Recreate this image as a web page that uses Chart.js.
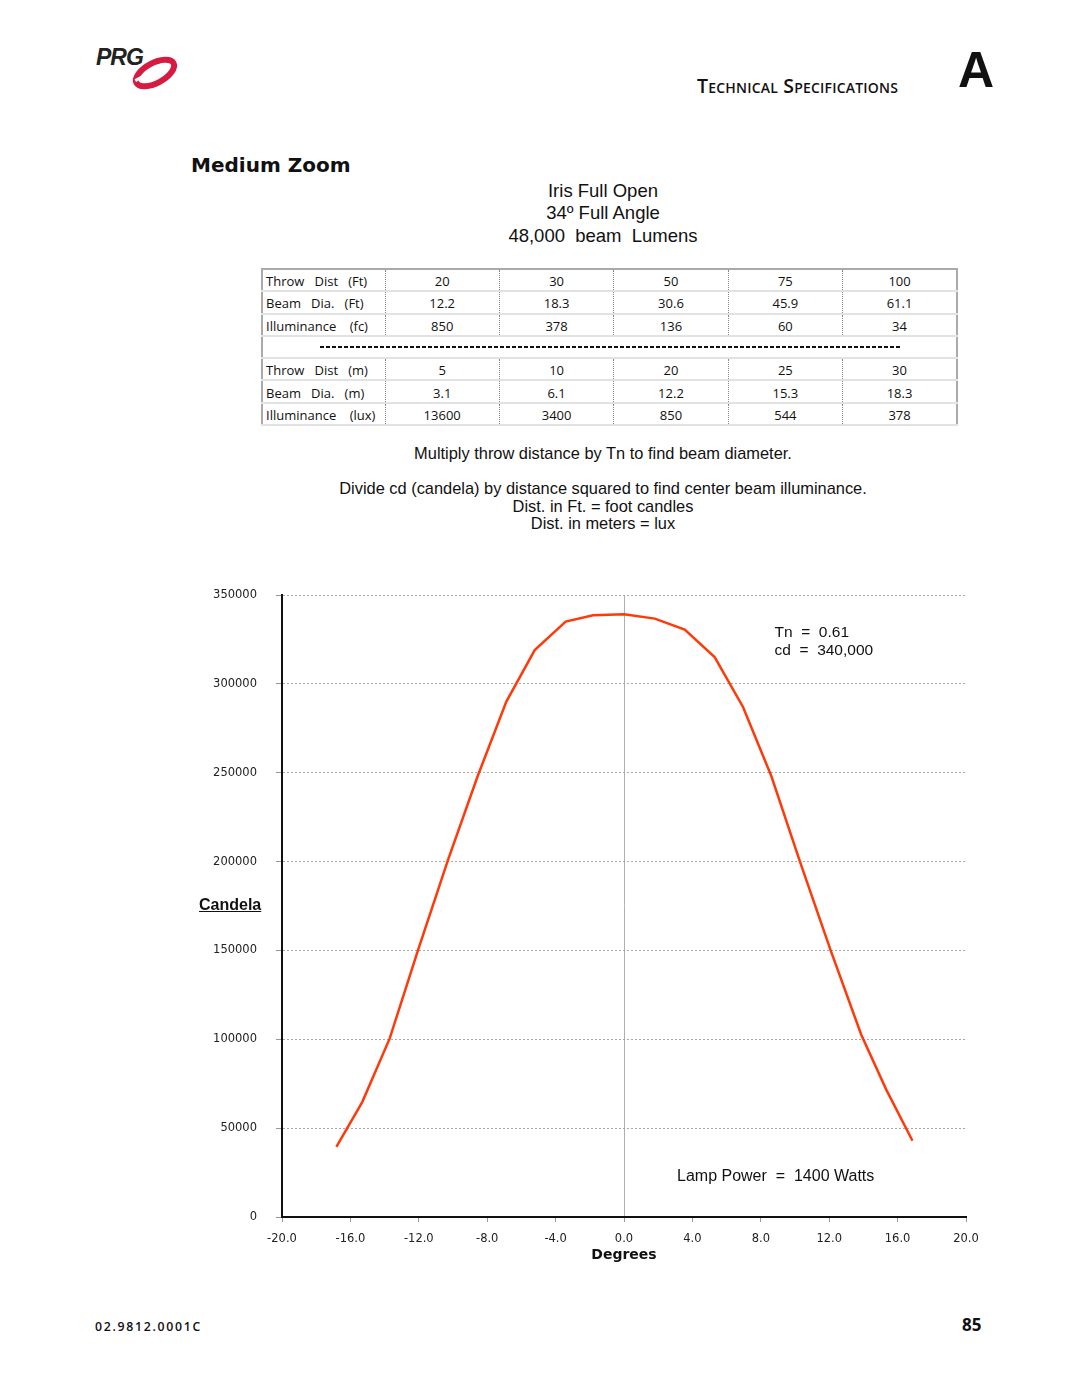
<!DOCTYPE html>
<html>
<head>
<meta charset="utf-8">
<script src="https://cdn.jsdelivr.net/npm/chart.js@4.4.1/dist/chart.umd.min.js"></script>
<style>
  html, body { margin:0; padding:0; background:#fff; }
  body { width:1080px; height:1397px; position:relative; overflow:hidden; font-family:"Liberation Sans", Arial, sans-serif; color:#111; }
  .abs { position:absolute; }
  #techspec { left:697px; top:72px; font-family:"Open Sans", sans-serif; font-weight:600; font-size:19.5px; font-variant:small-caps; letter-spacing:0.2px; }
  #bigA { left:958px; top:45px; font-family:"Liberation Sans", Arial, sans-serif; font-weight:bold; font-size:50px; line-height:1; }
  #mzoom { left:191px; top:153px; font-family:"DejaVu Sans", sans-serif; font-weight:bold; font-size:20px; }
  #iris { left:403px; width:400px; top:180px; text-align:center; font-size:18.5px; line-height:22.3px; }
  table#spec { position:absolute; left:261px; top:268px; width:697px; table-layout:fixed; border-collapse:collapse; font-family:"Open Sans", sans-serif; font-size:13px; color:#111; border:2px solid #aaa; }
  #spec td { height:18.3px; padding:2px 0 0 0; text-align:center; border-bottom:2px solid #e2e2e2; border-left:1px dotted #888; white-space:nowrap; overflow:visible; }
  #spec td.lab { text-align:left; padding-left:3px; border-left:none; }
  #spec tr.sep td { border-left:none; }
  #notes { left:253px; width:700px; top:445px; text-align:center; font-size:16.4px; line-height:17.5px; }
  #candela { left:199px; top:896px; font-weight:bold; font-size:16px; text-decoration:underline; }
  #code { left:95px; top:1318px; font-family:"Open Sans", sans-serif; font-weight:600; font-size:12.3px; letter-spacing:1.7px; }
  #page { left:962px; top:1313px; font-family:"Open Sans", sans-serif; font-weight:700; font-size:17px; }
  #chartWrap { position:absolute; left:0; top:560px; width:1080px; height:720px; }
</style>
</head>
<body>

<svg class="abs" style="left:90px;top:38px" width="100" height="60" viewBox="0 0 100 60">
  <ellipse cx="65" cy="35" rx="21" ry="10" transform="rotate(-28 65 35)" fill="none" stroke="#d71a3f" stroke-width="6"/>
  <rect x="44" y="31" width="30" height="3" fill="#fff" transform="rotate(-28 65 35)"/>
  <text x="6" y="27" font-family="Liberation Sans, Arial" font-weight="bold" font-style="italic" font-size="23" fill="#222" letter-spacing="-1">PRG</text>
</svg>
<div id="techspec" class="abs">Technical Specifications</div>
<div id="bigA" class="abs">A</div>
<div id="mzoom" class="abs">Medium Zoom</div>
<div id="iris" class="abs">Iris Full Open<br>34º Full Angle<br>48,000&nbsp; beam&nbsp; Lumens</div>

<table id="spec">
  <colgroup><col style="width:123px"><col><col><col><col><col></colgroup>
  <tbody id="specBody"></tbody>
</table>

<div id="notes" class="abs">Multiply throw distance by Tn to find beam diameter.<br><br>Divide cd (candela) by distance squared to find center beam illuminance.<br>Dist. in Ft. = foot candles<br>Dist. in meters = lux</div>

<div id="chartWrap"><canvas id="c" width="1080" height="720"></canvas></div>
<div id="candela" class="abs">Candela</div>

<div id="code" class="abs">02.9812.0001C</div>
<div id="page" class="abs">85</div>

<script>
// ---- table data ----
const throwFt = ["20", "30", "50", "75", "100"];
const beamFt = ["12.2", "18.3", "30.6", "45.9", "61.1"];
const illumFc = ["850", "378", "136", "60", "34"];
const throwM = ["5", "10", "20", "25", "30"];
const beamM = ["3.1", "6.1", "12.2", "15.3", "18.3"];
const illumLux = ["13600", "3400", "850", "544", "378"];

// ---- chart data ----
const degrees = [-16.82, -15.30, -13.70, -12.05, -10.29, -8.56, -6.88, -5.22, -3.41, -1.81, 0,
                 1.80, 3.55, 5.30, 6.96, 8.62, 10.27, 12.07, 13.88, 15.35, 16.87];
const candela = [39500, 64800, 100500, 150000, 201000, 248000, 290000, 319000, 335000, 338600, 339200,
                 336700, 330500, 315100, 287000, 248000, 200500, 150500, 102400, 71400, 42900];
const yTicks = [0, 50000, 100000, 150000, 200000, 250000, 300000, 350000];
const xTicks = [-20, -16, -12, -8, -4, 0, 4, 8, 12, 16, 20];
const noteTn = "Tn  =  0.61";
const noteCd = "cd  =  340,000";
const noteLamp = "Lamp Power  =  1400 Watts";

// build table
const body = document.getElementById('specBody');
function addRow(label, vals) {
  const tr = document.createElement('tr');
  const th = document.createElement('td'); th.className = 'lab'; th.innerHTML = label; tr.appendChild(th);
  vals.forEach(v => { const td = document.createElement('td'); td.textContent = v; tr.appendChild(td); });
  body.appendChild(tr);
}
addRow("Throw&nbsp;&nbsp; Dist&nbsp;&nbsp; (Ft)", throwFt);
addRow("Beam&nbsp;&nbsp; Dia.&nbsp;&nbsp; (Ft)", beamFt);
addRow("Illuminance&nbsp;&nbsp;&nbsp; (fc)", illumFc);
(function(){
  const tr = document.createElement('tr'); tr.className = 'sep';
  const td = document.createElement('td'); td.colSpan = 6; td.style.position = 'relative';
  td.innerHTML = '<div style="position:absolute;left:57px;width:582px;top:9px;height:2px;background:repeating-linear-gradient(90deg,#111 0 4px,transparent 4px 6px);"></div>';
  tr.appendChild(td); body.appendChild(tr);
})();
addRow("Throw&nbsp;&nbsp; Dist&nbsp;&nbsp; (m)", throwM);
addRow("Beam&nbsp;&nbsp; Dia.&nbsp;&nbsp; (m)", beamM);
addRow("Illuminance&nbsp;&nbsp;&nbsp; (lux)", illumLux);

// notes plugin
const notesPlugin = {
  id: 'notes',
  afterDatasetsDraw(chart) {
    const {ctx, scales: {x, y}} = chart;
    ctx.save();
    ctx.fillStyle = '#111';
    ctx.textBaseline = 'middle';
    ctx.textAlign = 'left';
    ctx.font = '15.5px "Liberation Sans", Arial, sans-serif';
    ctx.fillText(noteTn, x.getPixelForValue(8.8), y.getPixelForValue(328500));
    ctx.fillText(noteCd, x.getPixelForValue(8.8), y.getPixelForValue(318400));
    ctx.font = '16px "Liberation Sans", Arial, sans-serif';
    ctx.fillText(noteLamp, x.getPixelForValue(3.1), y.getPixelForValue(23000));
    ctx.restore();
  }
};

new Chart(document.getElementById('c'), {
  type: 'line',
  data: {
    datasets: [{
      data: degrees.map((d, i) => ({x: d, y: candela[i]})),
      borderColor: '#ff3a0a',
      borderWidth: 2.5,
      pointRadius: 0,
      tension: 0,
      fill: false
    }]
  },
  options: {
    responsive: false,
    animation: false,
    events: [],
    layout: { padding: { left: 0, top: 35, right: 114, bottom: 13 } },
    plugins: { legend: { display: false }, tooltip: { enabled: false } },
    scales: {
      x: {
        type: 'linear', min: -20, max: 20,
        afterFit(s) { s.height = 50; },
        afterBuildTicks(s) { s.ticks = xTicks.map(v => ({value: v})); },
        ticks: {
          font: { family: '"DejaVu Sans", Verdana, sans-serif', size: 11.5 },
          color: '#222', padding: 10, maxRotation: 0,
          callback: v => Number(v).toFixed(1)
        },
        grid: {
          color: ctx => (ctx.tick && ctx.tick.value === 0) ? '#b0b0b0' : 'rgba(0,0,0,0)',
          lineWidth: 1,
          tickColor: '#999', tickLength: 5, tickWidth: 1
        },
        border: { display: true, color: '#111', width: 2 },
        title: {
          display: true, text: 'Degrees', color: '#111',
          font: { family: '"DejaVu Sans", Verdana, sans-serif', size: 14, weight: 'bold' },
          padding: { top: 0, bottom: 3 }
        }
      },
      y: {
        type: 'linear', min: 0, max: 350000,
        afterFit(s) { s.width = 282; },
        afterBuildTicks(s) { s.ticks = yTicks.map(v => ({value: v})); },
        ticks: {
          font: { family: '"DejaVu Sans", Verdana, sans-serif', size: 11.5 },
          color: '#222', padding: 19,
          callback: v => String(v)
        },
        grid: {
          color: '#a8a8a8', lineWidth: 1,
          tickColor: '#999', tickLength: 6, tickWidth: 1, tickBorderDash: []
        },
        border: { display: true, color: '#111', width: 2, dash: [2, 2] }
      }
    }
  },
  plugins: [notesPlugin]
});
</script>
</body>
</html>
